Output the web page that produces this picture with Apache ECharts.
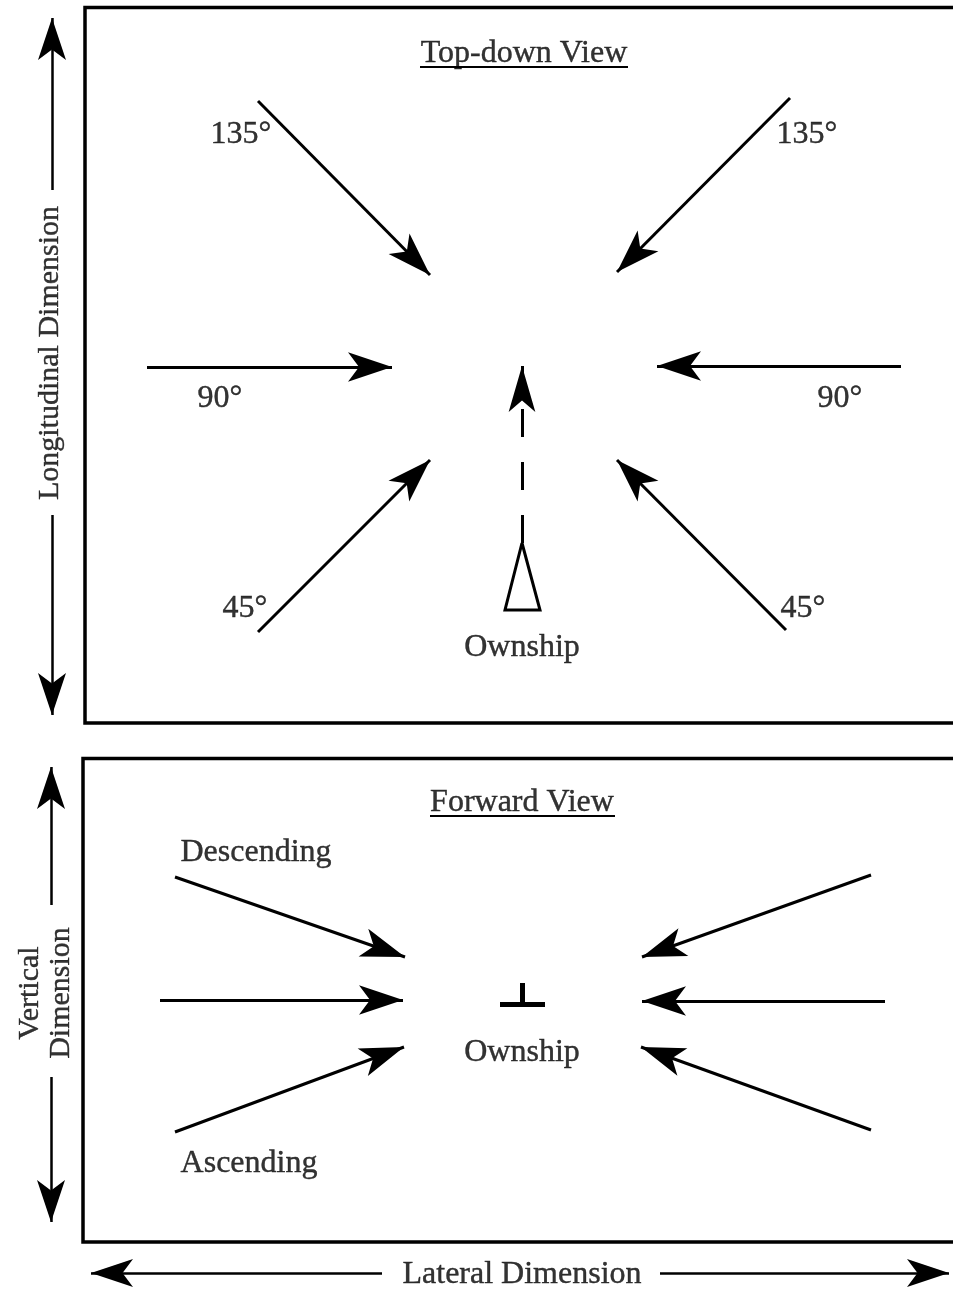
<!DOCTYPE html>
<html>
<head>
<meta charset="utf-8">
<script src="https://cdn.jsdelivr.net/npm/echarts@6/dist/echarts.min.js"></script>
<style>html,body{margin:0;padding:0;background:#fff}#c{width:953px;height:1289px}</style>
</head>
<body>
<div id="c"></div>
<script>
// Diagram coordinates in the picture's own units (x right, y down)
const topViewArrows = [[258,101,430,275],[790,98,617,272],[147,367,392,367],[901,366,657,366],[258,632,430,460],[786,630,617,460]];
const forwardViewArrows = [[175,877,405,957],[160,1000,403,1000],[175,1132,404,1047],[871,875,642,957],[885,1001,642,1001],[871,1130,641,1047]];
const dimensionArrows = [[52,190,52,18],[52,515,52,715],[51,905,51,767],[51,1077,51,1222],[382,1273,91,1273],[660,1273,949,1273]];
const headingArrow = [[522,543,522,366]];
const frames = [[[953,7.5],[85,7.5],[85,723],[953,723]],[[953,758.5],[83,758.5],[83,1242],[953,1242]]];
const ownshipTop = [[522,543],[505,610],[540,610],[522,543]];
const ownshipForward = [[[522.5,983],[522.5,1003]],[[500,1004.5],[545,1004.5]]];
const underlines = [[[420,67],[628,67]],[[430,816],[615,816]]];
const labels = [
  ['Top-down View',524,54,0],['135°',241,135,0],['135°',807,135,0],
  ['90°',220,399,0],['90°',840,399,0],['45°',245,609,0],['45°',803,609,0],
  ['Ownship',522,648,0],['Longitudinal Dimension',50,353,90],
  ['Forward View',522,803,0],['Descending',256,853,0],['Ascending',249,1164,0],
  ['Ownship',522,1053,0],['Vertical',30,993,90],['Dimension',61,993,90],
  ['Lateral Dimension',522,1275,0]
];

const toLines = arr => arr.map(a => ({coords:[[a[0],a[1]],[a[2],a[3]]]}));
const polys = [];
frames.forEach(f => polys.push({coords:f, lineStyle:{width:3.5}}));
polys.push({coords:ownshipTop, lineStyle:{width:3}});
ownshipForward.forEach(f => polys.push({coords:f, lineStyle:{width:5}}));
underlines.forEach(f => polys.push({coords:f, lineStyle:{width:2}}));

const chart = echarts.init(document.getElementById('c'));
chart.setOption({
  backgroundColor:'#fff',
  animation:false,
  grid:{left:0,right:0,top:0,bottom:0},
  xAxis:{type:'value',min:0,max:953,show:false},
  yAxis:{type:'value',min:0,max:1289,inverse:true,show:false},
  series:[
    {type:'lines',coordinateSystem:'cartesian2d',polyline:true,symbol:'none',
     lineStyle:{color:'#000',opacity:1,curveness:0,width:3},data:polys,z:2},
    {type:'lines',coordinateSystem:'cartesian2d',symbol:['none','arrow'],symbolSize:[[1,1],[22,44]],
     lineStyle:{color:'#000',opacity:1,width:3,curveness:0},itemStyle:{color:'#000'},
     data:toLines(topViewArrows.concat(forwardViewArrows)),z:3},
    {type:'lines',coordinateSystem:'cartesian2d',symbol:['none','arrow'],symbolSize:[[1,1],[21,42]],
     lineStyle:{color:'#000',opacity:1,width:2.5,curveness:0},
     data:toLines(dimensionArrows),z:3},
    {type:'lines',coordinateSystem:'cartesian2d',symbol:['none','arrow'],symbolSize:[[1,1],[20,46]],
     lineStyle:{color:'#000',opacity:1,width:3,curveness:0,type:[28,25]},
     data:toLines(headingArrow),z:3},
    {type:'scatter',symbolSize:0,z:4,silent:true,
     label:{show:true,position:'inside',color:'#000',fontFamily:'Liberation Serif',fontSize:32,
            textBorderColor:'#000',textBorderWidth:0.4,formatter:p=>p.name},
     data:labels.map(l=>({name:l[0],value:[l[1],l[2]],
       label:l[3]?{rotate:l[3],fontSize:30}:{}}))}
  ]
});
</script>
</body>
</html>
